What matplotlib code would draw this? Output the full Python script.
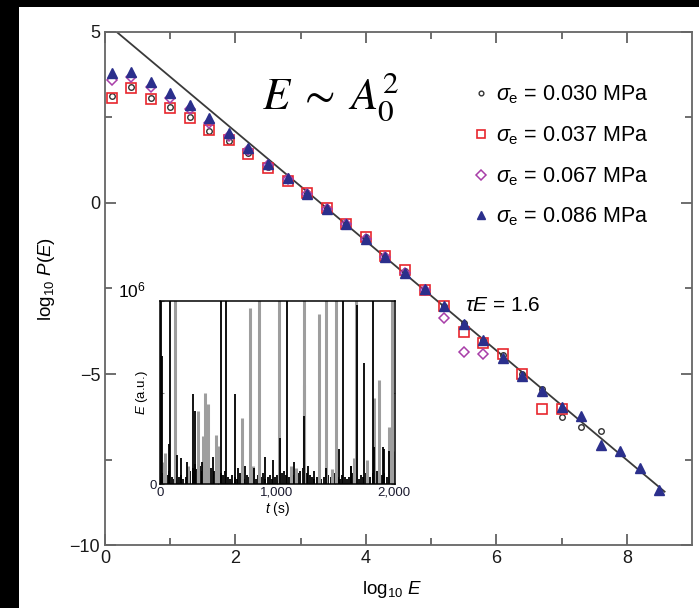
import numpy as np
import matplotlib
matplotlib.use("Agg")
import matplotlib.pyplot as plt
from matplotlib.patches import Rectangle

plt.rcParams['font.family'] = ['Liberation Sans', 'DejaVu Sans']
plt.rcParams['mathtext.fontset'] = 'custom'
plt.rcParams['mathtext.rm'] = 'Liberation Sans'
plt.rcParams['mathtext.it'] = 'Liberation Sans:italic'

# main panel data: log10 E vs log10 P(E)
log_e = [0.1, 0.4, 0.7, 1.0, 1.3, 1.6, 1.9, 2.2, 2.5, 2.8, 3.1, 3.4, 3.7, 4.0,
         4.3, 4.6, 4.9, 5.2, 5.5, 5.8, 6.1, 6.4, 6.7, 7.0, 7.3, 7.6, 7.9, 8.2, 8.5]
p_030 = [3.13, 3.38, 3.08, 2.80, 2.50, 2.10, 1.80, 1.45, 1.05, 0.68, 0.28, -0.15, -0.60,
         -1.00, -1.55, -2.00, -2.55, -3.00, -3.50, -4.00, -4.45, -5.00, -5.45, -6.26,
         -6.55, -6.67]
p_037 = [3.08, 3.35, 3.05, 2.78, 2.48, 2.12, 1.83, 1.42, 1.03, 0.65, 0.28, -0.15, -0.60,
         -0.98, -1.55, -1.97, -2.55, -3.00, -3.77, -4.10, -4.42, -5.00, -6.03, -6.02]
p_067 = [3.60, 3.68, 3.39, 3.08, 2.76, 2.35, 1.96, 1.55, 1.10, 0.70, 0.27, -0.17, -0.62,
         -1.05, -1.58, -2.05, -2.55, -3.36, -4.36, -4.42]
p_086 = [3.80, 3.83, 3.54, 3.22, 2.86, 2.48, 2.05, 1.61, 1.15, 0.74, 0.27, -0.17, -0.62,
         -1.06, -1.58, -2.05, -2.52, -3.01, -3.53, -4.00, -4.53, -5.06, -5.50, -5.96,
         -6.23, -7.08, -7.25, -7.75, -8.39]
labels = ['0.030', '0.037', '0.067', '0.086']

# power-law fit, tau_E = 1.6
fit_x = [0.18, 8.58]
fit_y = [5.00, -8.44]

# inset data: E(t) time series
noise_t = np.arange(0, 2000, 20)
noise_e = np.array([4, 6, 3, 5, 7, 4, 3, 6, 4, 5,
                    3, 4, 5, 7, 9, 11, 8, 10, 7, 6,
                    8, 6, 9, 7, 10, 8, 6, 5, 7, 4,
                    3, 5, 4, 3, 6, 4, 3, 5, 4, 3,
                    4, 3, 5, 4, 6, 3, 4, 5, 3, 4,
                    5, 4, 6, 7, 5, 4, 3, 5, 4, 6,
                    7, 9, 8, 6, 5, 4, 3, 4, 5, 3,
                    4, 3, 5, 4, 3, 6, 4, 3, 5, 4,
                    3, 4, 6, 5, 4, 3, 5, 4, 6, 5,
                    4, 6, 5, 7, 4, 5, 6, 4, 5, 7]) * 1e4
gray_t = [35, 43, 128, 241, 326, 369, 389, 411, 476, 496, 700, 766, 793, 851, 1021, 1121,
          1160, 1228, 1234, 1362, 1419, 1475, 1504, 1660, 1674, 1773, 1830, 1872, 1958,
          1986, 1998]
gray_e = [1.2e5, 1.7e5, 1.2e6, 1.0e5, 4.0e5, 2.6e5, 5.0e5, 4.4e5, 2.7e5, 2.1e5, 3.6e5,
          9.6e5, 1.0e5, 1.2e6, 1.2e6, 1.0e5, 0.9e5, 5.4e5, 1.2e6, 9.3e5, 1.2e6, 0.8e5,
          1.2e6, 1.4e5, 1.2e6, 1.3e5, 4.7e5, 5.7e5, 3.1e5, 1.2e6, 1.8e5]
black_t = [10, 14, 77, 85, 142, 180, 230, 284, 303, 355, 454, 525, 567, 638, 667, 723,
           808, 902, 964, 1027, 1084, 1143, 1228, 1262, 1319, 1419, 1532, 1569, 1632,
           1637, 1688, 1745, 1822, 1830, 1909, 1915, 1958]
black_e = [1.2e6, 7.0e5, 2.2e5, 1.2e6, 1.6e5, 1.4e5, 1.2e5, 4.9e5, 4.0e5, 1.2e5, 1.5e5,
           1.2e6, 1.2e6, 4.9e5, 0.9e5, 1.0e5, 0.9e5, 1.5e5, 1.3e5, 2.5e5, 1.2e6, 1.2e5,
           3.7e5, 1.0e5, 0.7e5, 0.9e5, 1.9e5, 1.2e6, 1.0e5, 1.0e5, 9.8e5, 6.6e5, 1.2e6,
           2.0e5, 2.0e5, 1.9e5, 1.8e5]

fig = plt.figure(figsize=(6.99, 6.08), dpi=100, facecolor='black')
fig.patches.append(Rectangle((19 / 699, 0), 1 - 19 / 699, 601 / 608,
                             transform=fig.transFigure, facecolor='white',
                             edgecolor='none', zorder=-10))

ax = fig.add_axes([0.1502, 0.1036, 0.8398, 0.8438])
ax.plot(fit_x, fit_y, color='#3a3a3a', lw=1.3, zorder=2)
ax.plot(log_e[:len(p_030)], p_030, 'o', ms=4, mfc='none', mec='#333333', mew=1.0,
        label=r'$\sigma_{\mathrm{e}}$ = ' + labels[0] + ' MPa', zorder=3)
ax.plot(log_e[:len(p_037)], p_037, 's', ms=7, mfc='none', mec='#e8262d', mew=1.2,
        label=r'$\sigma_{\mathrm{e}}$ = ' + labels[1] + ' MPa', zorder=3)
ax.plot(log_e[:len(p_067)], p_067, 'D', ms=5.5, mfc='none', mec='#a83ea8', mew=1.1,
        label=r'$\sigma_{\mathrm{e}}$ = ' + labels[2] + ' MPa', zorder=4)
ax.plot(log_e[:len(p_086)], p_086, '^', ms=7, color='#2b2f8c',
        label=r'$\sigma_{\mathrm{e}}$ = ' + labels[3] + ' MPa', zorder=5)

ax.set_xlim(0, 9)
ax.set_ylim(-10, 5)
ax.set_xticks([0, 2, 4, 6, 8])
ax.set_xticks([1, 3, 5, 7], minor=True)
ax.set_yticks([-10, -5, 0, 5])
ax.set_yticks([-7.5, -2.5, 2.5], minor=True)
ax.set_yticklabels(['\u221210', '\u22125', '0', '5'])
ax.tick_params(which='both', direction='in', top=True, right=True,
               labelsize=13, colors='#555555', labelcolor='#1a1a1a')
ax.tick_params(which='major', length=8, width=1.2)
ax.tick_params(which='minor', length=5, width=1.2)
for s in ax.spines.values():
    s.set_color('#666666')
    s.set_linewidth(1.3)

ax.set_xlabel(r'log$_{10}$ $E$', fontsize=13.5)
ax.set_ylabel(r'log$_{10}$ $P$($E$)', fontsize=13.5)
ax.xaxis.set_label_coords(0.489, -0.066)
ax.yaxis.set_label_coords(-0.081, 0.518)

ax.text(2.4, 2.75, r'$E\;\sim\;A_0^2$', fontsize=32, math_fontfamily='stix',
        va='baseline', ha='left')
ax.text(5.52, -3.01, r'$\tau E$ = 1.6', fontsize=15, va='center', ha='left')

ax.legend(loc='upper left', bbox_to_anchor=(0.63, 0.899), frameon=False,
          fontsize=15.5, handlelength=0.6, handletextpad=0.4, labelspacing=0.84,
          borderpad=0, borderaxespad=0, markerscale=0.85)

# inset time series
ins = fig.add_axes([0.2289, 0.2039, 0.3362, 0.301])
ins.vlines(noise_t, 0, noise_e, color='black', lw=1.3)
ins.vlines(gray_t, 0, gray_e, color='#9e9e9e', lw=2.2)
ins.vlines(black_t, 0, black_e, color='black', lw=1.3)
ins.set_xlim(0, 2010)
ins.set_ylim(0, 1e6)
ins.set_xticks([0, 1000, 2000])
ins.set_xticklabels(['0', '1,000', '2,000'])
ins.set_xticks([500, 1500], minor=True)
ins.set_yticks([0, 5e5, 1e6])
ins.set_yticklabels(['0', '', ''])
ins.tick_params(which='both', direction='in', right=True, labelsize=9.5,
                length=3, colors='#888888', labelcolor='#1a1a2e', pad=2)
for s in ins.spines.values():
    s.set_color('black')
    s.set_linewidth(1.1)
ins.set_xlabel(r'$t$ (s)', fontsize=10, labelpad=1)
ins.set_ylabel(r'$E$ (a.u.)', fontsize=9.5, labelpad=0)
ins.text(-0.06, 1.06, r'$10^6$', transform=ins.transAxes, fontsize=12.5,
         ha='right', va='center')

fig.savefig('out.png', dpi=100)
